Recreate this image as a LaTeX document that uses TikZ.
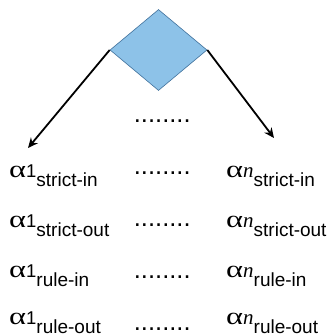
\documentclass[tikz,border=0pt]{standalone}
\usepackage{fontspec}
\setmainfont{Liberation Sans}
\newfontfamily\grkfont{Liberation Serif}
\usetikzlibrary{shapes.geometric,arrows.meta}
\definecolor{diafill}{RGB}{141,194,232}
\definecolor{diaedge}{RGB}{65,113,156}
\newcommand{\alab}[2]{\scalebox{1.35}[1]{\fontsize{24}{24}\selectfont\grkfont α}{\fontsize{18.5}{18.5}\selectfont #1}\raisebox{-9pt}{\fontsize{19}{19}\selectfont #2}}
\newcommand{\nsup}{{\fontsize{21}{21}\selectfont\grkfont\itshape n}}
\tikzset{
  lab/.style={anchor=base west, inner sep=0pt},
  dots/.style={anchor=base west, inner sep=0pt, font=\fontsize{25.5}{25.5}\selectfont},
  arr/.style={line width=1.8pt, -{Stealth[length=10pt,width=9pt]}},
}
\begin{document}
\begin{tikzpicture}[x=1pt,y=-1pt]
\useasboundingbox (0,0) rectangle (335,336);
\node[diamond, minimum width=97pt, minimum height=81pt, inner sep=0pt, fill=diafill, draw=diaedge, line width=0.6pt] (dia) at (158.5,50) {};
\coordinate (t1) at (28,148);
\coordinate (tn) at (274,138);
\draw[arr] (dia.west) -- (t1);
\draw[arr] (dia.east) -- (tn);
\node[dots] (d0) at (133.7,122.3) {........};
\node[dots] (d1) at (133.7,174.3) {........};
\node[dots] (d2) at (133.7,226.3) {........};
\node[dots] (d3) at (133.7,278.3) {........};
\node[dots] (d4) at (133.7,330.3) {........};
\node[lab] (a1) at (9,178) {\alab{1}{strict-in}};
\node[lab] (a2) at (9,227) {\alab{1}{strict-out}};
\node[lab] (a3) at (9,277) {\alab{1}{rule-in}};
\node[lab] (a4) at (9,324.5) {\alab{1}{rule-out}};
\node[lab] (b1) at (226,178) {\alab{\nsup}{strict-in}};
\node[lab] (b2) at (226,227) {\alab{\nsup}{strict-out}};
\node[lab] (b3) at (226,277) {\alab{\nsup}{rule-in}};
\node[lab] (b4) at (226,324.5) {\alab{\nsup}{rule-out}};
\end{tikzpicture}
\end{document}
